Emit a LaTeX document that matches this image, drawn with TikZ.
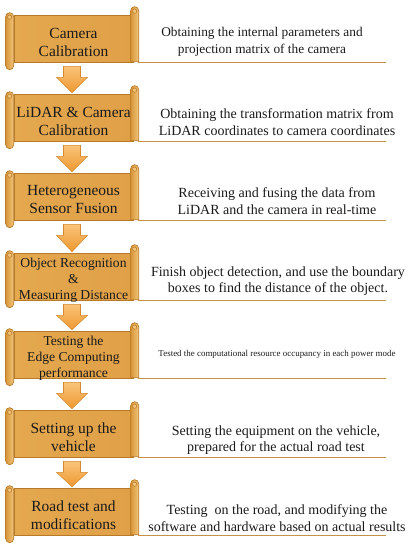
\documentclass[tikz,border=0pt]{standalone}
\usepackage{fontspec}
\setmainfont{Liberation Serif}
\newfontfamily\tnr{Liberation Serif}
\usetikzlibrary{calc}
\definecolor{bodyL}{HTML}{E4A84E}
\definecolor{bodyM}{HTML}{F8DBA4}
\definecolor{bodyR}{HTML}{E0A048}
\definecolor{edgeC}{HTML}{B87A28}
\definecolor{rollL}{HTML}{D8963A}
\definecolor{rollR}{HTML}{F2C57A}
\definecolor{arrTop}{HTML}{F9C47A}
\definecolor{arrBot}{HTML}{EE9830}
\definecolor{arrEdge}{HTML}{D4892C}
\definecolor{ruleC}{HTML}{C8914A}
\definecolor{txt}{HTML}{1A1A1A}
\tikzset{
 scrollbody/.style={draw=edgeC, line width=0.5pt, left color=bodyL, middle color=bodyM, right color=bodyR, minimum width=89.25pt, minimum height=35.25pt, inner sep=0pt},
 roll/.style={draw=edgeC, line width=0.5pt, left color=rollL, right color=rollR},
 curl/.style={draw=edgeC, line width=0.4pt, fill=rollR},
 steptext/.style={align=center, text=txt, font=\tnr\fontsize{11.6}{13.5}\selectfont, inner sep=0pt},
 smalltext/.style={align=center, text=txt, font=\tnr\fontsize{10.2}{12}\selectfont, inner sep=0pt},
 desc/.style={align=center, text=txt, font=\tnr\fontsize{10.5}{12.4}\selectfont, inner sep=0pt},
 rulel/.style={draw=ruleC, line width=0.9pt},
 downarrow/.style={draw=arrEdge, line width=0.4pt, top color=arrTop, bottom color=arrBot},
}
\newcommand{\scrollstep}[4]{%
  \node[scrollbody] (#1) at (73.5,#2+31.5) {};
  \begin{scope}[shift={(#1.north west)}]
    \path[roll] (117,47) -- (117,-4) arc[start angle=180, end angle=0, radius=3pt] -- (125,47) -- cycle;
    \path[curl] (121,-3.5) circle[radius=1.6pt];
    \path[roll] (-8,2) -- (-8,51) arc[start angle=180, end angle=360, radius=3pt] -- (0,2) arc[start angle=0, end angle=180, radius=3pt] -- cycle;
    \path[curl] (-4,2.5) circle[radius=1.6pt];
  \end{scope}
  \node[#3] (#1t) at ($(#1.center)+(0,3.5)$) {#4};
}
\newcommand{\descline}[5][]{%
  \node[desc,#1] (#2) at (#3,#4) {#5};
}
\newcommand{\steparrow}[2]{%
  \path[downarrow] ($(#1.south)+(-10,4)$) -- ($(#1.south)+(7,4)$) -- ($(#1.south)+(7,15)$) -- ($(#1.south)+(14,15)$) -- ($(#2.north)+(-1.5,-1)$) -- ($(#1.south)+(-17,15)$) -- ($(#1.south)+(-10,15)$) -- cycle;
}
\begin{document}
\begin{tikzpicture}[x=0.75pt,y=-0.75pt]
\useasboundingbox (0,0) rectangle (409,550);
\scrollstep{s1}{7}{steptext}{Camera\\Calibration}
\scrollstep{s2}{86}{steptext}{LiDAR \& Camera\\Calibration}
\scrollstep{s3}{165}{steptext}{Heterogeneous\\Sensor Fusion}
\scrollstep{s4}{245}{smalltext}{Object Recognition\\\&\\Measuring Distance}
\scrollstep{s5}{323}{smalltext}{Testing the\\Edge Computing\\performance}
\scrollstep{s6}{402}{steptext}{Setting up the\\vehicle}
\scrollstep{s7}{480}{steptext}{Road test and\\modifications}
\steparrow{s1}{s2}
\steparrow{s2}{s3}
\steparrow{s3}{s4}
\steparrow{s4}{s5}
\steparrow{s5}{s6}
\steparrow{s6}{s7}
\descline[font=\tnr\fontsize{10}{12.4}\selectfont]{d1}{262}{42}{Obtaining the internal parameters and\\projection matrix of the camera}
\descline{d2}{277}{122}{Obtaining the transformation matrix from\\LiDAR coordinates to camera coordinates}
\descline{d3}{277}{201}{Receiving and fusing the data from\\LiDAR and the camera in real-time}
\descline{d4}{278}{281}{Finish object detection, and use the boundary\\boxes to find the distance of the object.}
\descline[font=\tnr\fontsize{6.7}{8}\selectfont]{d5}{277}{354}{Tested the computational resource occupancy in each power mode}
\descline{d6}{276}{440}{Setting the equipment on the vehicle,\\prepared for the actual road test}
\descline{d7}{277}{518}{Testing\ \ on the road, and modifying the\\software and hardware based on actual results}
\foreach \n in {1,...,7}{
  \draw[rulel] ($(s\n.south east)+(5,0)$) -- ++(248,0);
}
\end{tikzpicture}
\end{document}
